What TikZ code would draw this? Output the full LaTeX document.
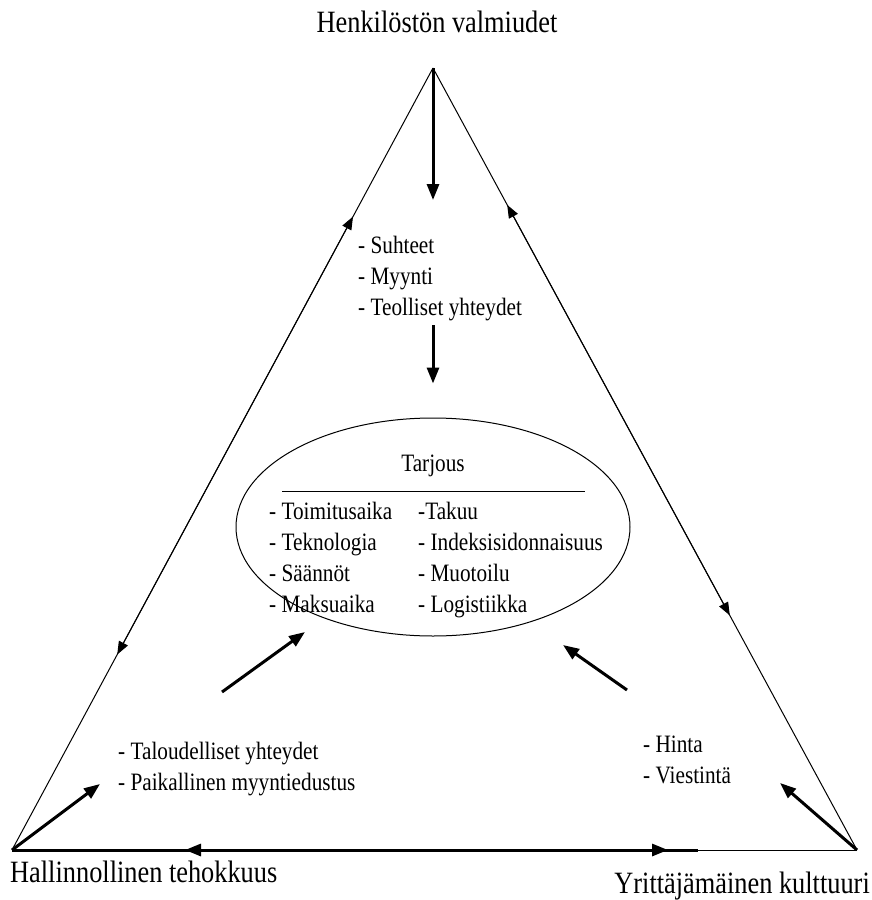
\documentclass[tikz,border=0pt]{standalone}
\usepackage{fontspec}
\setmainfont{Liberation Serif}[FakeStretch=0.85]
\usetikzlibrary{arrows.meta,calc,shapes.geometric}

\begin{document}
\begin{tikzpicture}[
    x=1pt, y=-1pt,
    side/.style={line width=1pt},
    sidearrow/.style={line width=1pt, -{Triangle[length=13pt,width=10pt]}},
    bigarrow/.style={line width=3pt, -{Triangle[length=16pt,width=12pt]}},
    corner/.style={font=\fontsize{31}{36}\selectfont, inner sep=0pt},
    item/.style={font=\fontsize{25}{31}\selectfont, align=left, inner sep=0pt},
    offer/.style={ellipse, draw, line width=1pt, minimum width=394pt, minimum height=218pt, inner sep=0pt},
]
\useasboundingbox (0,0) rectangle (872,900);

% Corners of the triangle
\coordinate (top) at (433,68);
\coordinate (bl) at (12,850);
\coordinate (br) at (857,850);

% Corner labels
\node[corner, anchor=base] (staff) at (437,32) {Henkilöstön valmiudet};
\node[corner, anchor=base west] (admin) at (10,882) {Hallinnollinen tehokkuus};
\node[corner, anchor=base east] (culture) at (870,893) {Yrittäjämäinen kulttuuri};

% Sides
\draw[side] (top) -- (bl);
\draw[side] (top) -- (br);
\draw[sidearrow] ($(top)!0.45!(bl)$) -- ($(top)!0.19!(bl)$);
\draw[sidearrow] ($(top)!0.45!(bl)$) -- ($(top)!0.75!(bl)$);
\draw[sidearrow] ($(top)!0.45!(br)$) -- ($(top)!0.175!(br)$);
\draw[sidearrow] ($(top)!0.45!(br)$) -- ($(top)!0.70!(br)$);

% Bottom side
\coordinate (bmid) at (430,850);
\coordinate (bleft) at (185,850);
\coordinate (bright) at (668,850);
\coordinate (bend) at (698,850);
\draw[side] (bend) -- (br);
\draw[line width=3pt] (bl) -- (bend);
\draw[bigarrow] (bmid) -- (bleft);
\draw[bigarrow] (bmid) -- (bright);

% Offer
\node[offer] (offer) at (433,527) {};
\node[item, anchor=base] (tarjous) at (433,471) {Tarjous};
\draw[line width=1pt] (282,491) -- (585,491);
\node[item, anchor=north west] (offerl) at (269,502) {- Toimitusaika\\- Teknologia\\- Säännöt\\- Maksuaika};
\node[item, anchor=north west] (offerr) at (418,502) {-Takuu\\- Indeksisidonnaisuus\\- Muotoilu\\- Logistiikka};

% Item lists
\node[item, anchor=north west] (rel) at (358,236) {- Suhteet\\- Myynti\\- Teolliset yhteydet};
\node[item, anchor=north west] (fin) at (118,742) {- Taloudelliset yhteydet\\- Paikallinen myyntiedustus};
\node[item, anchor=north west] (price) at (643,736) {- Hinta\\- Viestintä};

% Thick arrows
\coordinate (a1) at (433,200);
\draw[bigarrow] (top) -- (a1);
\draw[bigarrow, shorten <=4pt, shorten >=34pt] (rel.south -| offer) -- (offer.north);
\coordinate (fin1) at (222,692);
\coordinate (fin2) at (305,632);
\draw[bigarrow] (fin1) -- (fin2);
\coordinate (price1) at (627,690);
\coordinate (price2) at (563,645);
\draw[bigarrow] (price1) -- (price2);
\coordinate (c1) at (100,784);
\draw[bigarrow] (bl) -- (c1);
\coordinate (c2) at (780,783);
\draw[bigarrow] (br) -- (c2);

\end{tikzpicture}
\end{document}
